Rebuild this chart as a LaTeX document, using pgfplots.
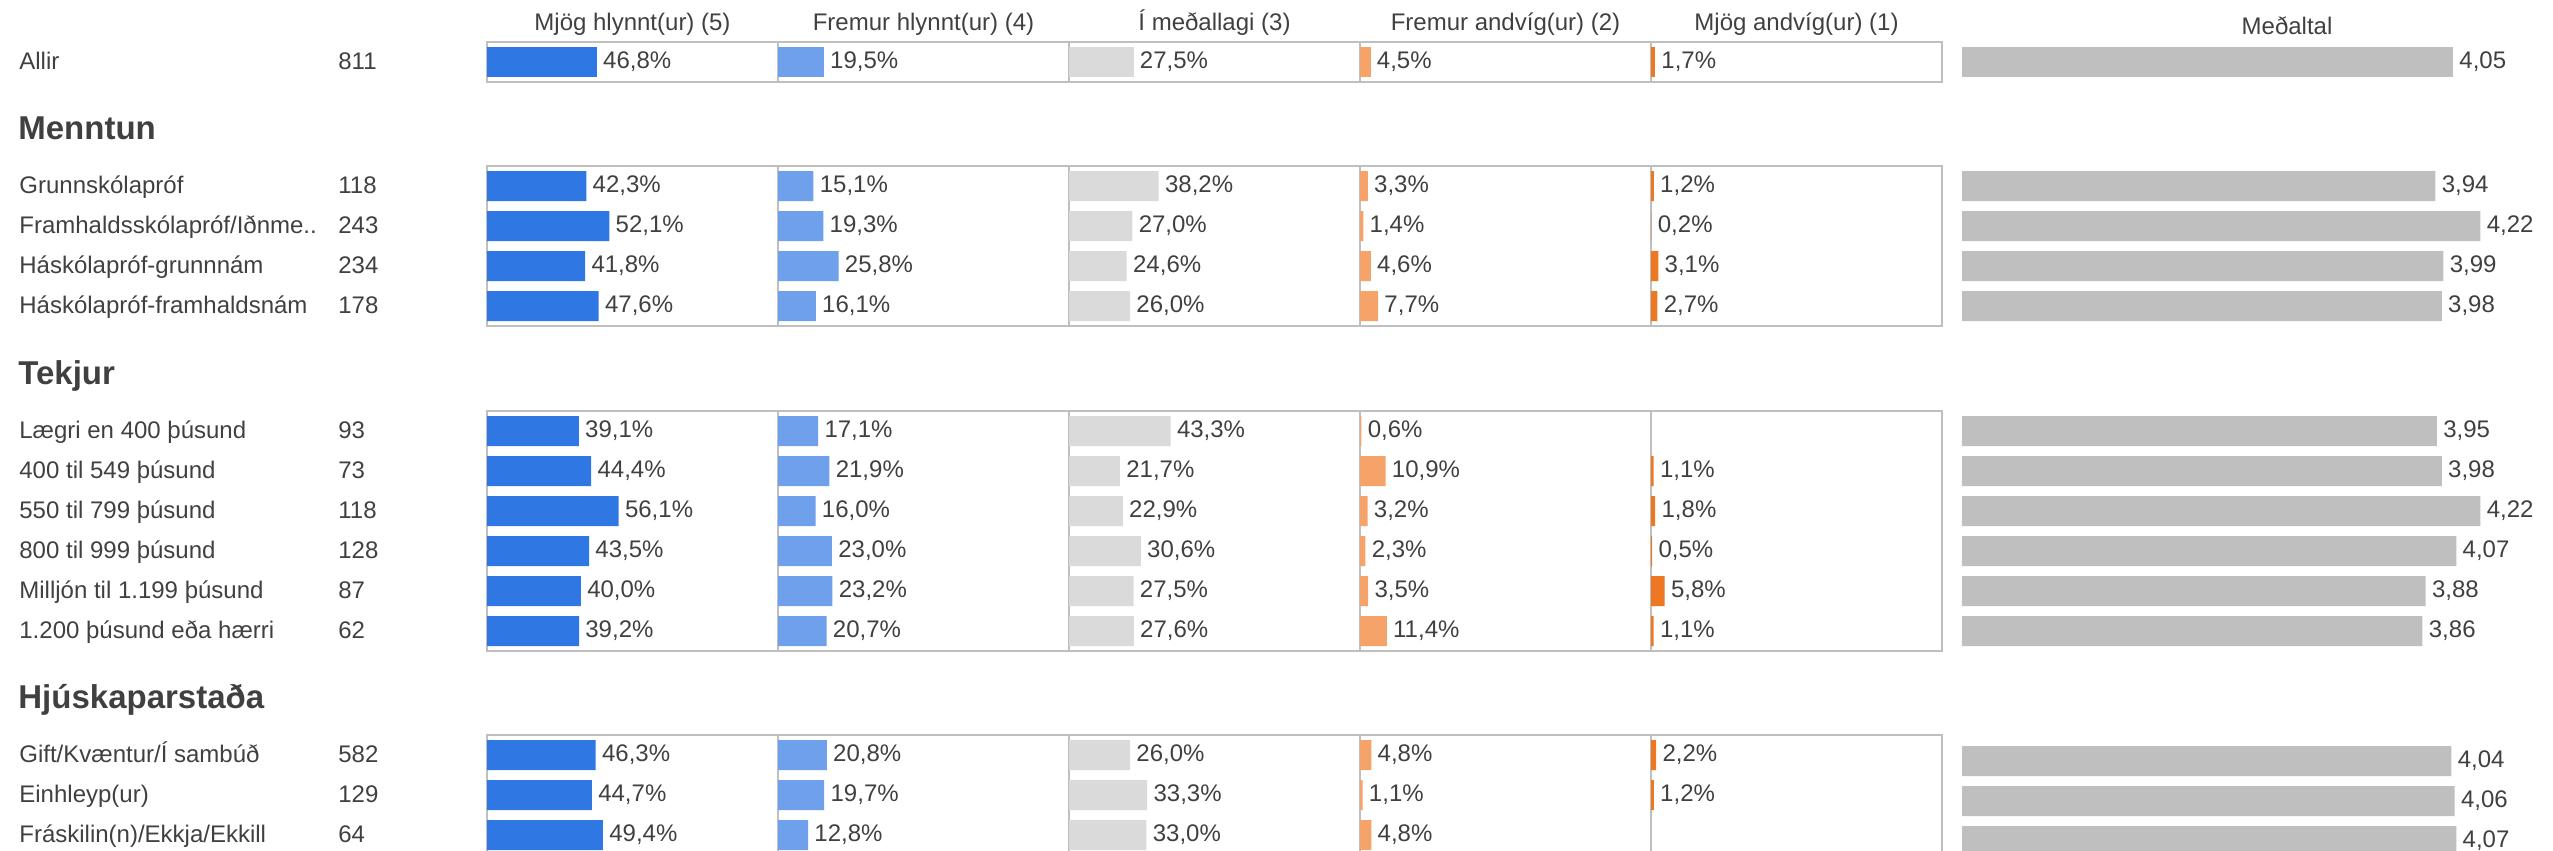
\documentclass[border=0pt]{standalone}
\usepackage{fontspec}
\setmainfont{Liberation Sans}
\usepackage{pgfplots}
\usepackage{pgfplotstable}
\pgfplotsset{compat=1.18}
\definecolor{cA}{RGB}{47,120,228}
\definecolor{cB}{RGB}{111,160,236}
\definecolor{cC}{RGB}{218,218,218}
\definecolor{cD}{RGB}{245,163,104}
\definecolor{cE}{RGB}{238,119,34}
\definecolor{meangray}{RGB}{191,191,191}
\definecolor{bordergray}{RGB}{191,191,191}
\definecolor{txt}{RGB}{64,64,64}
\newcommand\fs{\fontsize{12}{14}\selectfont}
\newcommand\hfs{\fontsize{16.5}{19}\selectfont\bfseries}

\pgfplotstableread{
r a b c d e m
0 46.8 19.5 27.5 4.5 1.7 4.05
}\tAllir
\pgfplotstableread{
r a b c d e m
0 42.3 15.1 38.2 3.3 1.2 3.94
1 52.1 19.3 27.0 1.4 0.2 4.22
2 41.8 25.8 24.6 4.6 3.1 3.99
3 47.6 16.1 26.0 7.7 2.7 3.98
}\tMenntun
\pgfplotstableread{
r a b c d e m
0 39.1 17.1 43.3 0.6 nan 3.95
1 44.4 21.9 21.7 10.9 1.1 3.98
2 56.1 16.0 22.9 3.2 1.8 4.22
3 43.5 23.0 30.6 2.3 0.5 4.07
4 40.0 23.2 27.5 3.5 5.8 3.88
5 39.2 20.7 27.6 11.4 1.1 3.86
}\tTekjur
\pgfplotstableread{
r a b c d e m
0 46.3 20.8 26.0 4.8 2.2 4.04
1 44.7 19.7 33.3 1.1 1.2 4.06
2 49.4 12.8 33.0 4.8 nan 4.07
}\tHjusk

\pgfplotsset{
  /pgf/number format/assume math mode=true,
  pctax/.style={scale only axis, width=145.5pt, xmin=0, xmax=124, ymin=-0.5,
    y dir=reverse, xtick=\empty, ytick=\empty,
    axis line style={draw=bordergray, line width=0.9pt},
    xbar, bar width=0.75, clip=false, anchor=north west,
    point meta=x,
    nodes near coords={\pgfmathprintnumber[fixed,fixed zerofill,precision=1,use comma]{\pgfplotspointmeta}\%},
    every node near coord/.append style={anchor=west, inner sep=0pt, xshift=3pt, font=\fs, text=txt}},
  meanax/.style={scale only axis, width=322pt, xmin=1, xmax=5, ymin=-0.5,
    y dir=reverse, hide axis, xbar, bar width=0.75, anchor=north west,
    point meta=x,
    nodes near coords={\pgfmathprintnumber[fixed,fixed zerofill,precision=2,use comma]{\pgfplotspointmeta}},
    every node near coord/.append style={anchor=west, inner sep=0pt, xshift=3pt, font=\fs, text=txt}},
}
% left, top, height, ymax, column, colour, table
\newcommand\pctaxis[7]{%
\begin{axis}[pctax, at={(#1pt,-#2pt)}, height=#3, ymax=#4]
\addplot[fill=#6, draw=none] table[x=#5, y=r] {#7};
\end{axis}}
% top, height, ymax, table
\newcommand\meanaxis[4]{%
\begin{axis}[meanax, at={(981pt,-#1pt)}, height=#2, ymax=#3]
\addplot[fill=meangray, draw=none] table[x=m, y=r] {#4};
\end{axis}}
% top, height, ymax, table, meantop
\newcommand\group[5]{%
\pctaxis{243.5}{#1}{#2}{#3}{a}{cA}{#4}
\pctaxis{389}{#1}{#2}{#3}{b}{cB}{#4}
\pctaxis{534.5}{#1}{#2}{#3}{c}{cC}{#4}
\pctaxis{680}{#1}{#2}{#3}{d}{cD}{#4}
\pctaxis{825.5}{#1}{#2}{#3}{e}{cE}{#4}
\meanaxis{#5}{#2}{#3}{#4}}
\newcommand\rowlab[3]{%
\node[anchor=base west, font=\fs, text=txt, inner sep=0pt] at (9.5pt,-#1pt) {#2};
\node[anchor=base west, font=\fs, text=txt, inner sep=0pt] at (169pt,-#1pt) {#3};}

\begin{document}
\begin{tikzpicture}
\path[use as bounding box] (0,0) rectangle (1276.5pt,-425.5pt);
% column headers
\node[anchor=base, font=\fs, text=txt, inner sep=0pt] at (316.25pt,-15pt) {Mjög hlynnt(ur) (5)};
\node[anchor=base, font=\fs, text=txt, inner sep=0pt] at (461.75pt,-15pt) {Fremur hlynnt(ur) (4)};
\node[anchor=base, font=\fs, text=txt, inner sep=0pt] at (607.25pt,-15pt) {Í meðallagi (3)};
\node[anchor=base, font=\fs, text=txt, inner sep=0pt] at (752.75pt,-15pt) {Fremur andvíg(ur) (2)};
\node[anchor=base, font=\fs, text=txt, inner sep=0pt] at (898.25pt,-15pt) {Mjög andvíg(ur) (1)};
\node[anchor=base, font=\fs, text=txt, inner sep=0pt] at (1143.5pt,-17pt) {Meðaltal};
% section headings
\node[anchor=base west, font=\hfs, text=txt, inner sep=0pt] at (9pt,-69.5pt) {Menntun};
\node[anchor=base west, font=\hfs, text=txt, inner sep=0pt] at (9pt,-192pt) {Tekjur};
\node[anchor=base west, font=\hfs, text=txt, inner sep=0pt] at (9pt,-354pt) {Hjúskaparstaða};
% row labels
\rowlab{34.5}{Allir}{811}
\rowlab{96.5}{Grunnskólapróf}{118}
\rowlab{116.5}{Framhaldsskólapróf/Iðnme..}{243}
\rowlab{136.5}{Háskólapróf-grunnnám}{234}
\rowlab{156.5}{Háskólapróf-framhaldsnám}{178}
\rowlab{219}{Lægri en 400 þúsund}{93}
\rowlab{239}{400 til 549 þúsund}{73}
\rowlab{259}{550 til 799 þúsund}{118}
\rowlab{279}{800 til 999 þúsund}{128}
\rowlab{299}{Milljón til 1.199 þúsund}{87}
\rowlab{319}{1.200 þúsund eða hærri}{62}
\rowlab{381}{Gift/Kvæntur/Í sambúð}{582}
\rowlab{401}{Einhleyp(ur)}{129}
\rowlab{421}{Fráskilin(n)/Ekkja/Ekkill}{64}
% groups
\group{21}{20pt}{0.5}{\tAllir}{21}
\group{83}{80pt}{3.5}{\tMenntun}{83}
\group{205.5}{120pt}{5.5}{\tTekjur}{205.5}
\group{367.5}{60pt}{2.5}{\tHjusk}{370.5}
\end{tikzpicture}
\end{document}
